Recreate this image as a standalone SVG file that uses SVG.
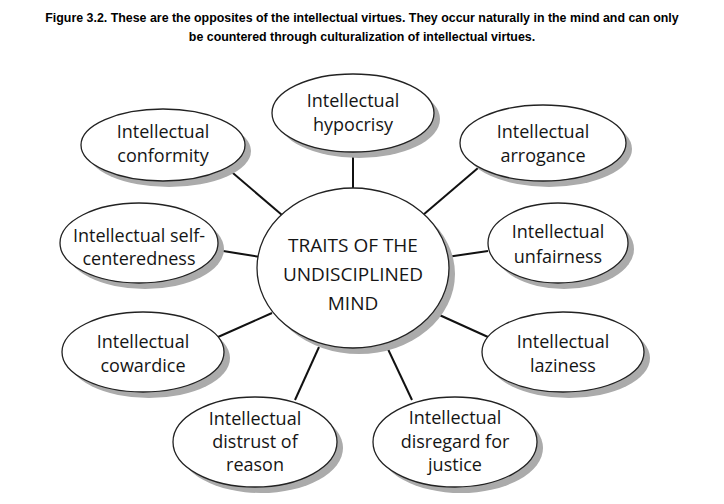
<svg xmlns="http://www.w3.org/2000/svg" width="724" height="504" viewBox="0 0 724 504">
<style>
.title{font-family:"Liberation Sans",Arial,sans-serif;font-weight:bold;font-size:12.4px;fill:#000;text-anchor:middle}
.sh{fill:#ababab}
.el{fill:#fff;stroke:#222;stroke-width:1.3}
.t{font-family:"Open Sans","DejaVu Sans",sans-serif;font-size:18px;fill:#151515;text-anchor:middle}
.c{font-family:"Open Sans","DejaVu Sans",sans-serif;font-size:19px;fill:#151515;text-anchor:middle}
.cn line{stroke:#111;stroke-width:2}
</style>
<rect width="724" height="504" fill="#fff"/>
<text class="title" x="362" y="22">Figure 3.2. These are the opposites of the intellectual virtues. They occur naturally in the mind and can only</text>
<text class="title" x="362" y="41">be countered through culturalization of intellectual virtues.</text>
<g id="connectors" class="cn">
<line x1="353" y1="152" x2="353" y2="188"/>
<line x1="227" y1="168" x2="282" y2="215"/>
<line x1="217" y1="250" x2="260" y2="257"/>
<line x1="478" y1="168" x2="423" y2="215"/>
<line x1="488" y1="251" x2="447" y2="257"/>
<line x1="218" y1="337" x2="272" y2="313"/>
<line x1="295" y1="400" x2="319" y2="347"/>
<line x1="488" y1="337" x2="435" y2="313"/>
<line x1="412" y1="400" x2="387" y2="347"/>
</g>
<g id="center">
<ellipse class="sh" cx="359" cy="274" rx="96" ry="80"/>
<ellipse class="el" cx="353" cy="268" rx="96" ry="80"/>
<text class="c" x="353" y="252">TRAITS OF THE</text>
<text class="c" x="353" y="281">UNDISCIPLINED</text>
<text class="c" x="353" y="310">MIND</text>
</g>
<g id="hypocrisy">
<ellipse class="sh" cx="359" cy="119" rx="81" ry="39"/>
<ellipse class="el" cx="353" cy="113" rx="81" ry="39"/>
<text class="t" x="353" y="107">Intellectual</text>
<text class="t" x="353" y="131">hypocrisy</text>
</g>
<g id="conformity">
<ellipse class="sh" cx="169" cy="151" rx="82" ry="36"/>
<ellipse class="el" cx="163" cy="145" rx="82" ry="36"/>
<text class="t" x="163" y="138">Intellectual</text>
<text class="t" x="163" y="162">conformity</text>
</g>
<g id="selfcenteredness">
<ellipse class="sh" cx="145" cy="249" rx="79" ry="40"/>
<ellipse class="el" cx="139" cy="243" rx="79" ry="40"/>
<text class="t" x="139" y="242">Intellectual self-</text>
<text class="t" x="139" y="265">centeredness</text>
</g>
<g id="arrogance">
<ellipse class="sh" cx="549" cy="149" rx="83" ry="38"/>
<ellipse class="el" cx="543" cy="143" rx="83" ry="38"/>
<text class="t" x="543" y="138">Intellectual</text>
<text class="t" x="543" y="162">arrogance</text>
</g>
<g id="unfairness">
<ellipse class="sh" cx="564" cy="249" rx="70" ry="40"/>
<ellipse class="el" cx="558" cy="243" rx="70" ry="40"/>
<text class="t" x="558" y="238">Intellectual</text>
<text class="t" x="558" y="263">unfairness</text>
</g>
<g id="cowardice">
<ellipse class="sh" cx="149" cy="358" rx="81" ry="40"/>
<ellipse class="el" cx="143" cy="352" rx="81" ry="40"/>
<text class="t" x="143" y="348">Intellectual</text>
<text class="t" x="143" y="372">cowardice</text>
</g>
<g id="distrust">
<ellipse class="sh" cx="261" cy="448" rx="82" ry="45"/>
<ellipse class="el" cx="255" cy="442" rx="82" ry="45"/>
<text class="t" x="255" y="425">Intellectual</text>
<text class="t" x="255" y="448">distrust of</text>
<text class="t" x="255" y="471">reason</text>
</g>
<g id="laziness">
<ellipse class="sh" cx="569" cy="358" rx="81" ry="40"/>
<ellipse class="el" cx="563" cy="352" rx="81" ry="40"/>
<text class="t" x="563" y="348">Intellectual</text>
<text class="t" x="563" y="372">laziness</text>
</g>
<g id="disregard">
<ellipse class="sh" cx="461" cy="448" rx="82" ry="45"/>
<ellipse class="el" cx="455" cy="442" rx="82" ry="45"/>
<text class="t" x="455" y="424">Intellectual</text>
<text class="t" x="455" y="448">disregard for</text>
<text class="t" x="455" y="471">justice</text>
</g>
</svg>
